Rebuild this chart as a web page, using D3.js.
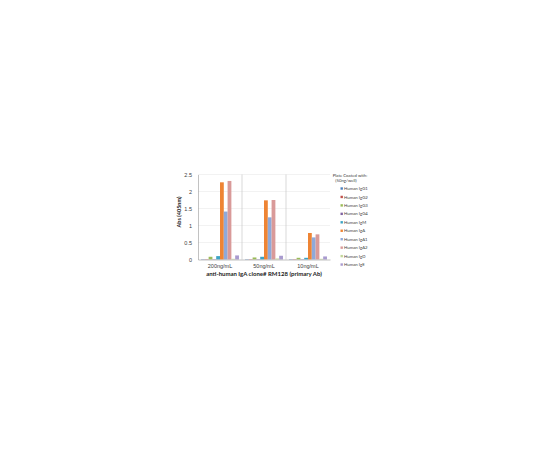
<!DOCTYPE html>
<html>
<head>
<meta charset="utf-8">
<script src="https://cdn.jsdelivr.net/npm/d3@7"></script>
<style>
  body { margin: 0; background: #fff; }
  svg { display: block; font-family: Lato, "Open Sans", sans-serif; }
</style>
</head>
<body>
<svg id="chart" width="540" height="450"></svg>
<script>
// データ
const categories = ["200ng/mL", "50ng/mL", "10ng/mL"];
const seriesNames = ["Human IgG1", "Human IgG2", "Human IgG3", "Human IgG4", "Human IgM",
  "Human IgA", "Human IgA1", "Human IgA2", "Human IgD", "Human IgE"];
const seriesColors = ["#4F81BD", "#C0504D", "#9BBB59", "#8064A2", "#3CA3C4",
  "#EE8434", "#8FA9D9", "#D99A99", "#C3D69B", "#A99BCF"];
const values = [
  [0.01, 0.01, 0.01], // IgG1
  [0.01, 0.01, 0.01], // IgG2
  [0.08, 0.06, 0.05], // IgG3
  [0.01, 0.01, 0.01], // IgG4
  [0.10, 0.08, 0.05], // IgM
  [2.27, 1.74, 0.78], // IgA
  [1.41, 1.24, 0.65], // IgA1
  [2.31, 1.75, 0.74], // IgA2
  [0.02, 0.03, 0.02], // IgD
  [0.12, 0.11, 0.09]  // IgE
];
const yTicks = [0, 0.5, 1, 1.5, 2, 2.5];

const svg = d3.select("#chart");
const plotL = 198, plotR = 330, plotT = 174.5, plotB = 259.5;

const x0 = d3.scaleBand().domain(categories).range([plotL, plotR]).paddingInner(0).paddingOuter(0);
const x1 = d3.scaleBand().domain(d3.range(seriesNames.length))
  .range([0, x0.bandwidth()]).paddingOuter(0.8).paddingInner(0);
const y = d3.scaleLinear().domain([0, 2.5]).range([plotB, plotT]);

// グリッド線
svg.append("g")
  .selectAll("line")
  .data(yTicks.slice(1))
  .join("line")
  .attr("x1", plotL).attr("x2", plotR)
  .attr("y1", (d) => y(d)).attr("y2", (d) => y(d))
  .attr("stroke", "#e4e4e4").attr("stroke-width", 0.5);

// カテゴリ区切り線
svg.append("g")
  .selectAll("line")
  .data(categories.slice(1))
  .join("line")
  .attr("x1", (d) => x0(d)).attr("x2", (d) => x0(d))
  .attr("y1", plotT).attr("y2", plotB)
  .attr("stroke", "#bfbfbf").attr("stroke-width", 0.6);

// 棒
const gBars = svg.append("g");
seriesNames.forEach((name, si) => {
  gBars.append("g")
    .attr("fill", seriesColors[si])
    .selectAll("rect")
    .data(categories.map((c, ci) => ({ c, v: values[si][ci] })))
    .join("rect")
    .attr("x", (d) => x0(d.c) + x1(si))
    .attr("width", x1.bandwidth())
    .attr("y", (d) => y(d.v))
    .attr("height", (d) => y(0) - y(d.v));
});

// Y軸
const yAxis = svg.append("g")
  .attr("transform", `translate(${plotL},0)`)
  .call(d3.axisLeft(y).tickValues(yTicks).tickSize(0).tickPadding(6)
    .tickFormat((d) => String(d)));
yAxis.select(".domain").attr("stroke", "#999").attr("stroke-width", 0.6);
yAxis.selectAll("text").attr("font-size", 5.5).attr("fill", "#404040").attr("font-family", null);

// X軸
const xAxis = svg.append("g")
  .attr("transform", `translate(0,${plotB})`)
  .call(d3.axisBottom(x0).tickSize(0).tickPadding(5));
xAxis.select(".domain").attr("stroke", "#999").attr("stroke-width", 0.6);
xAxis.selectAll("text").attr("font-size", 5.5).attr("fill", "#404040").attr("font-family", null);

// 軸タイトル
svg.append("text")
  .attr("transform", "translate(181,212) rotate(-90)")
  .attr("text-anchor", "middle")
  .attr("font-size", 5.5).attr("font-weight", "bold").attr("fill", "#222")
  .text("Abs (405nm)");
svg.append("text")
  .attr("x", 264).attr("y", 276)
  .attr("text-anchor", "middle")
  .attr("font-size", 6).attr("font-weight", "bold").attr("fill", "#222")
  .text("anti-human IgA clone# RM128 (primary Ab)");

// 凡例
const legend = svg.append("g");
legend.append("text")
  .attr("x", 350).attr("y", 176.5)
  .attr("text-anchor", "middle").attr("font-size", 4.3).attr("fill", "#404040")
  .text("Plate Coated with:");
legend.append("text")
  .attr("x", 346).attr("y", 182)
  .attr("text-anchor", "middle").attr("font-size", 4.3).attr("fill", "#404040")
  .text("(50ng/well)");
const items = legend.selectAll("g.item")
  .data(seriesNames)
  .join("g")
  .attr("class", "item")
  .attr("transform", (d, i) => `translate(340.5,${188.5 + i * 8.45})`);
items.append("rect")
  .attr("x", 0).attr("y", -1.2).attr("width", 2.4).attr("height", 2.4)
  .attr("fill", (d, i) => seriesColors[i]);
items.append("text")
  .attr("x", 3.5).attr("y", 1.6)
  .attr("font-size", 4.3).attr("fill", "#404040")
  .text((d) => d);
</script>
</body>
</html>
